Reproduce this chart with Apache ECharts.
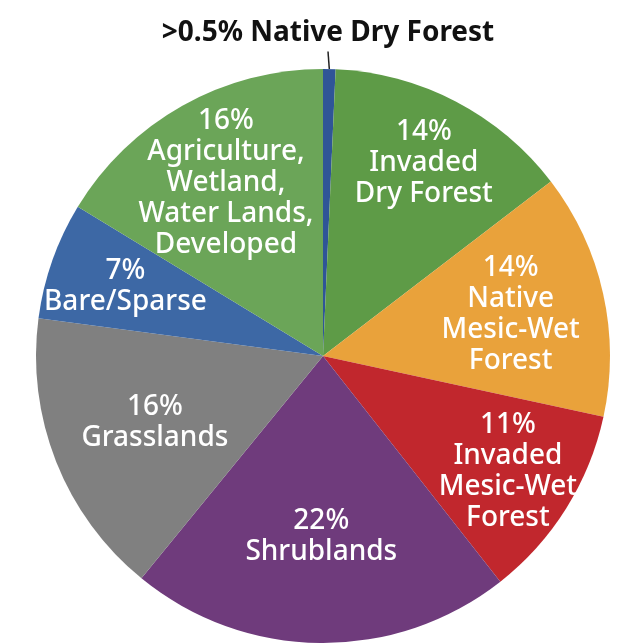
<!DOCTYPE html>
<html>
<head>
<meta charset="utf-8">
<script src="https://cdn.jsdelivr.net/npm/echarts@6/dist/echarts.min.js"></script>
<style>
  html, body { margin: 0; padding: 0; background: #ffffff; }
  #chart { width: 622px; height: 643px; }
</style>
</head>
<body>
<div id="chart"></div>
<script>
// ---- data ----
var categories = [
  'Native Dry Forest',
  'Invaded\nDry Forest',
  'Native\nMesic-Wet\nForest',
  'Invaded\nMesic-Wet\nForest',
  'Shrublands',
  'Grasslands',
  'Bare/Sparse',
  'Agriculture,\nWetland,\nWater Lands,\nDeveloped'
];
var percentLabels = ['>0.5%', '14%', '14%', '11%', '22%', '16%', '7%', '16%'];
var values = [0.7, 13.9, 13.8, 11.0, 21.5, 16.2, 6.6, 16.3];
var colors = ['#2f5597', '#5e9b47', '#e9a23b', '#c1272d', '#6f3b7c', '#808080', '#3d68a5', '#6ba558'];

// ---- layout (styling) ----
var CX = 323, CY = 356, R = 287;
var labelRadius = [0, 0.76, 0.67, 0.76, 0.63, 0.63, 0.73, 0.69];

var chart = echarts.init(document.getElementById('chart'), null, { renderer: 'canvas' });

var seriesData = values.map(function (v, i) {
  var item = {
    value: v,
    name: categories[i],
    itemStyle: { color: colors[i] }
  };
  if (i === 0) {
    item.label = {
      position: 'outside',
      color: '#111111',
      fontWeight: 'bold',
      fontSize: 28,
      padding: [0, 0, 6, 0]
    };
    item.labelLine = {
      show: true,
      length: 12,
      length2: 0,
      lineStyle: { color: '#222222', width: 1.5 }
    };
  }
  return item;
});

chart.setOption({
  animation: false,
  backgroundColor: '#ffffff',
  series: [{
    type: 'pie',
    center: [CX, CY],
    radius: R,
    startAngle: 90,
    clockwise: true,
    avoidLabelOverlap: false,
    silent: true,
    itemStyle: { borderWidth: 0 },
    label: {
      show: true,
      position: 'inside',
      color: '#ffffff',
      fontFamily: 'Noto Sans',
      fontWeight: 500,
      fontSize: 28,
      lineHeight: 31,
      align: 'center',
      formatter: function (p) {
        if (p.dataIndex === 0) {
          return percentLabels[0] + ' ' + categories[0];
        }
        return percentLabels[p.dataIndex] + '\n' + categories[p.dataIndex];
      }
    },
    labelLine: { show: false },
    labelLayout: function (p) {
      if (p.dataIndex === 0) {
        return { x: 328, y: 33, align: 'center', verticalAlign: 'middle' };
      }
      var r = p.labelRect;
      var mx = r.x + r.width / 2 - CX;
      var my = r.y + r.height / 2 - CY;
      var d = Math.sqrt(mx * mx + my * my) || 1;
      var f = labelRadius[p.dataIndex] * R;
      return {
        x: CX + mx / d * f,
        y: CY + my / d * f,
        align: 'center',
        verticalAlign: 'middle'
      };
    },
    data: seriesData
  }]
});
</script>
</body>
</html>
